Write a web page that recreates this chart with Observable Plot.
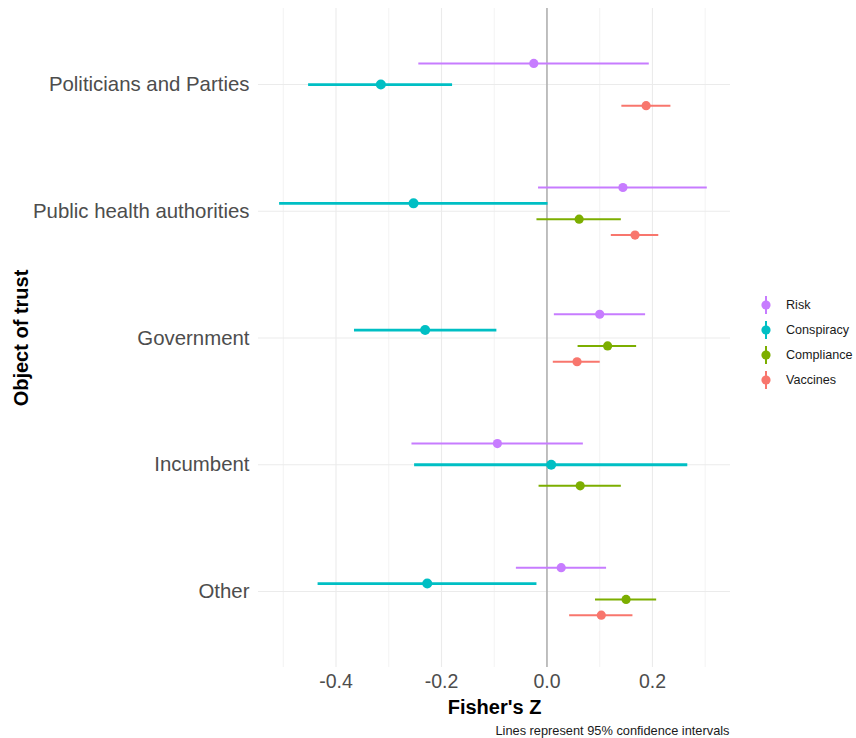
<!DOCTYPE html>
<html>
<head>
<meta charset="utf-8">
<script src="https://cdn.jsdelivr.net/npm/d3@7"></script>
<script src="https://cdn.jsdelivr.net/npm/@observablehq/plot@0.6"></script>
<style>
  html, body { margin: 0; padding: 0; background: #fff; }
  #wrap { position: relative; width: 856px; height: 738px; font-family: "Liberation Sans", Arial, sans-serif; }
  #legend { position: absolute; left: 0; top: 0; }
</style>
</head>
<body>
<div id="wrap"></div>
<script>
const categories = ["Politicians and Parties", "Public health authorities", "Government", "Incumbent", "Other"];
const series = ["Risk", "Conspiracy", "Compliance", "Vaccines"];
const colors = ["#C77CFF", "#00BFC4", "#7CAE00", "#F8766D"];
const xTicks = [-0.4, -0.2, 0.0, 0.2];
const xMinor = [-0.5, -0.3, -0.1, 0.1, 0.3];

const riskEst  = [-0.025, 0.144, 0.100, -0.094, 0.027];
const riskLow  = [-0.243, -0.016, 0.014, -0.256, -0.058];
const riskHigh = [0.194, 0.304, 0.187, 0.069, 0.113];

const consEst  = [-0.315, -0.253, -0.231, 0.008, -0.227];
const consLow  = [-0.452, -0.507, -0.365, -0.251, -0.434];
const consHigh = [-0.179, 0.002, -0.095, 0.267, -0.019];

const compEst  = [null, 0.061, 0.115, 0.063, 0.150];
const compLow  = [null, -0.019, 0.059, -0.015, 0.092];
const compHigh = [null, 0.141, 0.170, 0.141, 0.208];

const vaccEst  = [0.188, 0.167, 0.057, null, 0.103];
const vaccLow  = [0.142, 0.122, 0.012, null, 0.043];
const vaccHigh = [0.235, 0.212, 0.101, null, 0.163];

const est  = [riskEst, consEst, compEst, vaccEst];
const low  = [riskLow, consLow, compLow, vaccLow];
const high = [riskHigh, consHigh, compHigh, vaccHigh];

// build rows with dodge positions (dodge width 0.5 of a category)
const rows = [];
categories.forEach((c, ci) => {
  const present = series.map((s, si) => si).filter(si => est[si][ci] != null);
  const n = present.length;
  present.forEach((si, k) => {
    rows.push({
      category: c,
      series: series[si],
      est: est[si][ci],
      low: low[si][ci],
      high: high[si][ci],
      pos: ci + (k - (n - 1) / 2) * 0.5 / n
    });
  });
});
const consRows = rows.filter(d => d.series === "Conspiracy");
const otherRows = rows.filter(d => d.series !== "Conspiracy");

const W = 856, H = 738;
const plot = Plot.plot({
  width: W,
  height: H,
  marginLeft: 258,
  marginRight: 126,
  marginTop: 8,
  marginBottom: 71,
  style: { fontFamily: "'Liberation Sans', Arial, sans-serif", background: "#fff", overflow: "visible" },
  x: { domain: [-0.547, 0.348] },
  y: { domain: [categories.length - 0.4, -0.6] },
  color: { domain: series, range: colors },
  marks: [
    Plot.gridX(xMinor, { stroke: "#ebebeb", strokeOpacity: 1, strokeWidth: 0.6 }),
    Plot.gridX(xTicks, { stroke: "#ebebeb", strokeOpacity: 1, strokeWidth: 1.1 }),
    Plot.gridY(d3.range(categories.length), { stroke: "#ebebeb", strokeOpacity: 1, strokeWidth: 1.1 }),
    Plot.ruleX([0], { stroke: "#a3a3a3", strokeWidth: 1.3 }),
    Plot.ruleY(otherRows, { y: "pos", x1: "low", x2: "high", stroke: "series", strokeWidth: 2 }),
    Plot.ruleY(consRows, { y: "pos", x1: "low", x2: "high", stroke: "series", strokeWidth: 2.8 }),
    Plot.dot(otherRows, { x: "est", y: "pos", fill: "series", r: 4.6 }),
    Plot.dot(consRows, { x: "est", y: "pos", fill: "series", r: 5 }),
    Plot.axisX({
      ticks: xTicks, tickFormat: d => d.toFixed(1), tickSize: 0, tickPadding: 7,
      fontSize: 19.5, fill: "#4d4d4d", label: null
    }),
    Plot.axisY({
      ticks: d3.range(categories.length), tickFormat: i => categories[i], tickSize: 0, tickPadding: 9,
      fontSize: 20.4, fill: "#4d4d4d", label: null
    }),
    Plot.text(["Fisher's Z"], {
      frameAnchor: "bottom", dy: 40, lineAnchor: "middle",
      fontSize: 20, fontWeight: "bold", fill: "#000"
    }),
    Plot.text(["Object of trust"], {
      frameAnchor: "left", dx: -237, rotate: -90, lineAnchor: "middle", textAnchor: "middle",
      fontSize: 20, fontWeight: "bold", fill: "#000"
    }),
    Plot.text(["Lines represent 95% confidence intervals"], {
      frameAnchor: "bottom-right", dx: -1, dy: 63, textAnchor: "end", lineAnchor: "middle",
      fontSize: 12.8, fill: "#1a1a1a"
    })
  ]
});
const wrap = document.getElementById("wrap");
wrap.appendChild(plot);

// legend
const leg = d3.select(wrap).append("svg")
  .attr("id", "legend").attr("width", W).attr("height", H);
const legX = 766, legY0 = 305, legStep = 25;
series.forEach((s, i) => {
  const g = leg.append("g").attr("transform", `translate(${legX},${legY0 + i * legStep})`);
  g.append("line").attr("x1", 0).attr("x2", 0).attr("y1", -9).attr("y2", 9)
    .attr("stroke", colors[i]).attr("stroke-width", 2);
  g.append("circle").attr("r", 4.6).attr("fill", colors[i]);
  g.append("text").attr("x", 20).attr("y", 0).attr("dy", "0.35em")
    .attr("font-size", 12.6).attr("fill", "#1a1a1a")
    .attr("font-family", "'Liberation Sans', Arial, sans-serif").text(s);
});
</script>
</body>
</html>
